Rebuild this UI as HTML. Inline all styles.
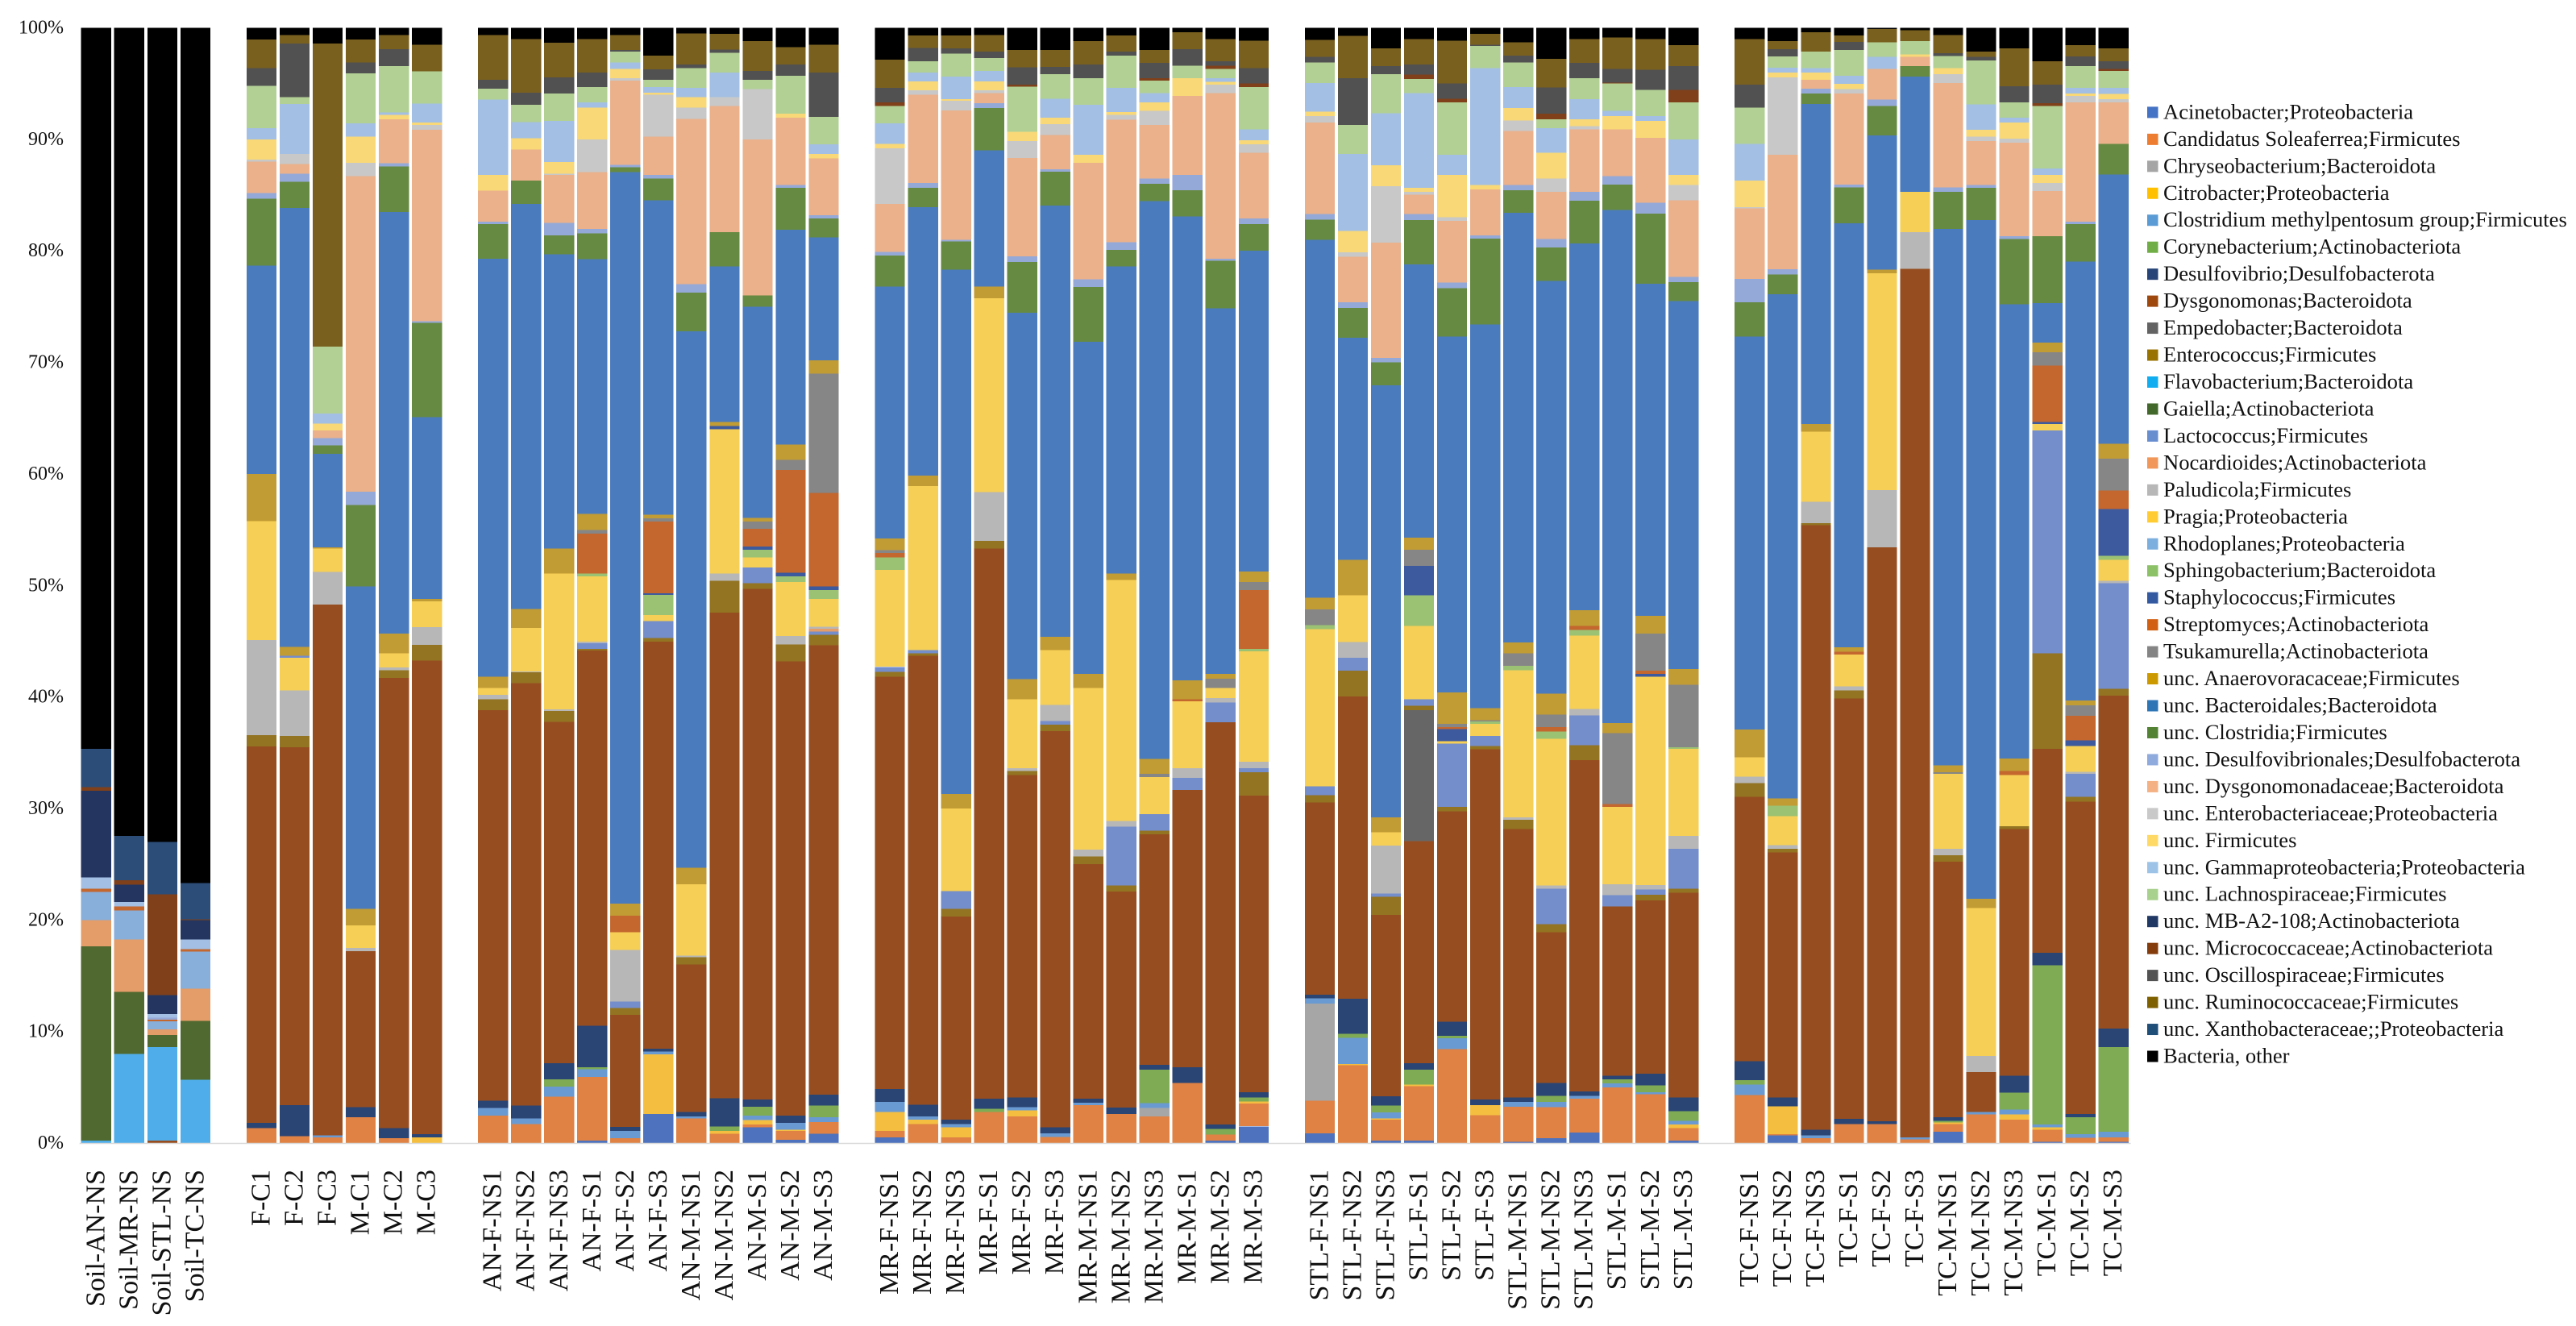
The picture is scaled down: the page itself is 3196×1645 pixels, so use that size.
<!DOCTYPE html>
<html lang="en">
<head>
<meta charset="utf-8">
<title>Stacked bacterial composition chart</title>
<style>
  html, body { margin: 0; padding: 0; background: #ffffff; }
  #chart { display: block; width: 3196px; height: 1645px; }
  text { font-family: "Liberation Serif", "Times New Roman", serif; fill: #000; }
  .tick { font-size: 24px; text-anchor: end; fill: #111; }
  .cat { font-size: 34px; text-anchor: end; fill: #111; }
  .leg { font-size: 26.6px; fill: #111; }
  rect.seg { shape-rendering: crispEdges; }
</style>
</head>
<body>
<svg id="chart" xmlns="http://www.w3.org/2000/svg" width="3196" height="1645" viewBox="0 0 3196 1645"></svg>
<script>
const seriesNames = ["Acinetobacter;Proteobacteria","Candidatus Soleaferrea;Firmicutes","Chryseobacterium;Bacteroidota","Citrobacter;Proteobacteria","Clostridium methylpentosum group;Firmicutes","Corynebacterium;Actinobacteriota","Desulfovibrio;Desulfobacterota","Dysgonomonas;Bacteroidota","Empedobacter;Bacteroidota","Enterococcus;Firmicutes","Flavobacterium;Bacteroidota","Gaiella;Actinobacteriota","Lactococcus;Firmicutes","Nocardioides;Actinobacteriota","Paludicola;Firmicutes","Pragia;Proteobacteria","Rhodoplanes;Proteobacteria","Sphingobacterium;Bacteroidota","Staphylococcus;Firmicutes","Streptomyces;Actinobacteriota","Tsukamurella;Actinobacteriota","unc. Anaerovoracaceae;Firmicutes","unc. Bacteroidales;Bacteroidota","unc. Clostridia;Firmicutes","unc. Desulfovibrionales;Desulfobacterota","unc. Dysgonomonadaceae;Bacteroidota","unc. Enterobacteriaceae;Proteobacteria","unc. Firmicutes","unc. Gammaproteobacteria;Proteobacteria","unc. Lachnospiraceae;Firmicutes","unc. MB-A2-108;Actinobacteriota","unc. Micrococcaceae;Actinobacteriota","unc. Oscillospiraceae;Firmicutes","unc. Ruminococcaceae;Firmicutes","unc. Xanthobacteraceae;;Proteobacteria","Bacteria, other"];
const palette = ["#4e72bd","#df8244","#a6a6a6","#f4bf41","#6a9ad2","#7fab55","#2a4474","#964e20","#666666","#937422","#4faeea","#4f6930","#748dcb","#e49c68","#b7b7b7","#f6cf56","#88aeda","#9bc173","#3d5a9e","#c3672e","#868686","#c19b34","#4a7bbd","#678a42","#95a9d8","#eab18b","#c8c8c8","#f8d877","#a3bfe3","#b2d094","#243660","#7f401a","#515151","#7a601f","#2c4d78","#000000"];
const legendPalette = ["#4472c4","#ed7d31","#a5a5a5","#ffc000","#5b9bd5","#70ad47","#264478","#9e480e","#636363","#997300","#10aef0","#43682b","#698ed0","#f1975a","#b7b7b7","#ffcd33","#7cafdd","#8cc168","#335aa1","#d26012","#848484","#cc9a00","#2e75b6","#548235","#8faadc","#f4b183","#c9c9c9","#ffd966","#9dc3e6","#a9d18e","#203864","#843c0c","#525252","#7f6000","#1f4e79","#000000"];
const yTicks = [0,10,20,30,40,50,60,70,80,90,100];

/* Each sample: [series index, cumulative top of that segment in percent], bottom to top */
const Soil_AN_NS=[[10,.2],[11,17.65],[13,19.97],[16,22.5],[19,22.8],[28,23.8],[30,31.6],[31,31.9],[34,35.35],[35,100]];
const Soil_MR_NS=[[10,8],[11,13.56],[13,18.25],[16,20.87],[19,21.2],[28,21.6],[30,23.16],[31,23.56],[34,27.55],[35,100]];
const Soil_STL_NS=[[7,.2],[10,8.6],[11,9.7],[13,10.2],[16,10.9],[19,11.05],[24,11.25],[28,11.57],[30,13.27],[31,22.3],[34,27],[35,100]];
const Soil_TC_NS=[[10,5.66],[11,10.94],[13,13.86],[16,17.15],[19,17.4],[28,18.25],[30,20],[31,20.05],[34,23.3],[35,100]];
const F_C1=[[1,1.35],[6,1.8],[7,35.55],[9,36.57],[14,45.1],[15,55.75],[21,60],[22,78.66],[23,84.67],[24,85.2],[25,88],[26,88.2],[27,90],[28,91],[29,94.8],[32,96.4],[33,98.95],[35,100]];
const F_C2=[[1,.63],[6,3.4],[7,35.5],[9,36.5],[14,40.6],[15,43.5],[12,43.7],[21,44.5],[22,83.84],[23,86.2],[24,86.9],[25,87.8],[26,88.7],[28,93.17],[29,93.77],[32,98.6],[33,99.35],[35,100]];
const F_C3=[[1,.5],[4,.68],[7,48.3],[14,51.2],[15,53.3],[21,53.4],[22,61.8],[23,62.56],[24,63.2],[25,63.9],[27,64.5],[28,65.4],[29,71.4],[33,98.6],[35,100]];
const M_C1=[[1,2.3],[6,3.2],[7,17.2],[14,17.5],[15,19.5],[21,21],[22,49.9],[23,57.2],[24,58.4],[25,86.7],[26,87.9],[27,90.25],[28,91.45],[29,95.9],[32,96.9],[33,98.95],[35,100]];
const M_C2=[[1,.43],[6,1.35],[7,41.7],[9,42.4],[14,42.65],[15,43.9],[21,45.67],[22,83.5],[23,87.56],[24,87.86],[25,91.8],[27,92.2],[28,92.4],[29,96.56],[32,98.1],[33,99.35],[35,100]];
const M_C3=[[3,.5],[6,.78],[7,43.25],[9,44.67],[14,46.27],[15,48.56],[21,48.8],[22,65.1],[23,73.55],[24,73.7],[25,90.85],[26,91.3],[27,91.5],[28,93.2],[29,96.1],[33,98.5],[35,100]];
const AN_F_NS1=[[1,2.47],[4,3.14],[6,3.8],[7,38.83],[9,39.8],[14,40.2],[15,40.8],[21,41.8],[22,79.3],[23,82.4],[24,82.6],[25,85.4],[27,86.8],[28,93.55],[29,94.55],[32,95.35],[33,99.36],[35,100]];
const AN_F_NS2=[[1,1.7],[4,2.2],[6,3.37],[7,41.25],[9,42.2],[14,42.3],[15,46.2],[21,47.9],[22,84.2],[23,86.3],[25,89.1],[27,90.1],[28,91.55],[29,93.1],[32,94.2],[33,99],[35,100]];
const AN_F_NS3=[[1,4.14],[4,5.07],[5,5.7],[6,7.15],[7,37.77],[9,38.76],[14,38.9],[15,51.08],[21,53.3],[22,79.7],[23,81.4],[24,82.5],[25,86.8],[26,86.9],[27,87.97],[28,91.65],[29,94.1],[32,95.55],[33,98.66],[35,100]];
const AN_F_S1=[[0,.2],[1,5.93],[4,6.63],[5,6.8],[6,10.5],[7,44.15],[9,44.3],[12,44.8],[14,44.95],[15,50.8],[17,51.08],[19,54.64],[20,54.97],[21,56.4],[22,79.27],[23,81.56],[24,81.96],[25,87.07],[26,90],[27,92.85],[28,93.3],[29,94.7],[32,96],[33,99],[35,100]];
const AN_F_S2=[[1,.43],[4,1.1],[6,1.43],[7,11.5],[9,12.1],[12,12.7],[14,17.3],[15,18.9],[19,20.4],[21,21.47],[22,87.07],[23,87.5],[24,87.7],[25,95.27],[26,95.5],[27,96.3],[28,96.9],[29,97.86],[32,98],[33,99.36],[35,100]];
const AN_F_S3=[[0,2.6],[3,7.95],[4,8.2],[6,8.45],[7,44.97],[9,45.3],[12,46.8],[15,47.36],[17,49.15],[18,49.3],[19,55.73],[20,56],[21,56.33],[22,84.55],[23,86.5],[24,86.8],[25,90.26],[26,94],[27,94.2],[28,94.7],[29,95.35],[32,96.27],[33,97.5],[35,100]];
const AN_M_NS1=[[1,2.2],[4,2.38],[6,2.8],[7,16],[9,16.65],[14,16.8],[15,23.2],[21,24.7],[22,72.8],[23,76.25],[24,77],[25,91.85],[26,92.85],[27,93.8],[28,94.6],[29,96.4],[32,96.7],[33,99.5],[35,100]];
const AN_M_NS2=[[1,.82],[3,1.08],[5,1.5],[6,4],[7,47.56],[9,50.4],[14,51.08],[15,64],[18,64.3],[21,64.65],[22,78.6],[23,81.66],[25,92.98],[26,93.8],[28,96],[29,97.76],[32,98.06],[33,99.46],[35,100]];
const AN_M_S1=[[0,1.42],[1,1.65],[3,2.07],[4,2.45],[5,3.27],[6,3.9],[7,49.7],[9,50.2],[12,51.6],[15,52.5],[17,53.2],[18,53.5],[19,55.07],[20,55.73],[21,56.07],[22,75],[23,76],[25,90],[26,94.5],[29,95.35],[32,96.13],[33,98.8],[35,100]];
const AN_M_S2=[[0,.28],[1,1.08],[3,1.2],[4,1.8],[6,2.45],[7,43.2],[9,44.7],[14,45.47],[15,50.3],[17,50.8],[18,51.15],[19,60.35],[20,61.25],[21,62.64],[22,81.9],[23,85.65],[24,85.9],[25,91.95],[27,92.3],[29,95.7],[32,96.7],[33,98.26],[35,100]];
const AN_M_S3=[[0,.82],[1,1.88],[4,2.3],[5,3.37],[6,4.33],[7,44.64],[9,45.57],[12,45.87],[13,46.1],[14,46.3],[15,48.8],[17,49.6],[18,49.9],[19,58.3],[20,69],[21,70.2],[22,81.2],[23,82.9],[24,83.2],[25,88.3],[27,88.7],[28,89.56],[29,92],[32,96],[33,98.5],[35,100]];
const MR_F_NS1=[[0,.5],[1,1.08],[3,2.8],[4,3.67],[6,4.83],[7,41.8],[9,42.25],[12,42.7],[15,51.4],[17,52.5],[19,52.9],[20,53.15],[21,54.2],[22,76.8],[23,79.57],[24,79.9],[25,84.2],[26,89.2],[27,89.6],[28,91.45],[29,93],[31,93.3],[32,94.6],[33,97.15],[35,100]];
const MR_F_NS2=[[1,1.7],[3,2.1],[4,2.38],[6,3.44],[7,43.7],[9,43.9],[12,44.2],[15,58.9],[21,59.85],[22,83.9],[23,85.65],[24,86.1],[25,94],[26,94.4],[27,95.2],[28,96],[29,97],[32,98.2],[33,99.3],[35,100]];
const MR_F_NS3=[[1,.5],[3,1.42],[4,1.7],[6,2.1],[7,20.3],[9,21],[12,22.6],[15,30],[21,31.3],[22,78.3],[23,80.85],[24,81],[25,92.6],[26,93.45],[27,93.6],[28,95.64],[29,97.7],[32,98.16],[33,99.3],[35,100]];
const MR_F_S1=[[1,2.8],[5,3.07],[6,3.97],[7,53.3],[9,54],[14,58.35],[15,75.75],[21,76.8],[22,89],[23,92.8],[24,93.25],[25,94.15],[26,94.4],[27,95.2],[28,96.14],[29,97.3],[32,97.86],[33,99.36],[35,100]];
const MR_F_S2=[[1,2.38],[3,2.94],[4,3.2],[6,4.07],[7,33],[9,33.35],[14,33.6],[15,39.8],[21,41.6],[22,74.45],[23,79],[24,79.5],[25,88.33],[26,89.83],[27,90.66],[29,94.74],[31,94.9],[32,96.47],[33,98],[35,100]];
const MR_F_S3=[[1,.55],[4,.88],[6,1.42],[7,36.94],[9,37.5],[12,37.83],[14,39.3],[15,44.2],[21,45.4],[22,84.05],[23,87.1],[24,87.3],[25,90.4],[26,91.35],[27,91.95],[28,93.65],[29,95.84],[32,96.5],[33,98],[35,100]];
const MR_M_NS1=[[1,3.4],[4,3.6],[6,3.97],[7,25],[9,25.7],[14,26.3],[15,40.8],[21,42.05],[22,71.85],[23,76.75],[24,77.45],[25,87.9],[27,88.6],[28,93.1],[29,95.5],[32,96.7],[33,98.8],[35,100]];
const MR_M_NS2=[[1,2.6],[6,3.17],[7,22.56],[9,23.1],[12,28.37],[14,28.87],[15,50.5],[21,51.08],[22,78.6],[23,80.1],[24,80.77],[25,91.75],[26,92.2],[27,92.45],[28,94.6],[29,97.5],[32,97.86],[33,99.3],[35,100]];
const MR_M_NS3=[[1,2.38],[2,3.14],[4,3.57],[5,6.56],[6,7],[7,27.7],[9,28],[12,29.5],[15,32.8],[20,33.1],[21,34.45],[22,84.45],[23,86],[24,86.5],[25,91.3],[26,92.55],[27,93.3],[28,94.15],[29,95.27],[31,95.5],[32,96.87],[33,98],[35,100]];
const MR_M_S1=[[1,5.4],[6,6.8],[7,31.66],[12,32.75],[14,33.6],[15,39.6],[19,39.8],[21,41.5],[22,83.1],[23,85.45],[24,86.8],[25,93.9],[27,95.5],[29,96.6],[32,98.1],[33,99.6],[35,100]];
const MR_M_S2=[[0,.2],[1,.75],[5,1.25],[6,1.68],[7,37.74],[12,39.5],[14,39.9],[15,40.8],[20,41.65],[21,42.05],[22,74.85],[23,79.1],[24,79.3],[25,94.15],[26,94.9],[27,95.15],[28,95.5],[29,96.3],[31,96.6],[32,97],[33,99],[35,100]];
const MR_M_S3=[[0,1.5],[1,3.54],[3,3.74],[5,4.1],[6,4.54],[7,31.15],[9,33.25],[12,33.6],[14,34.2],[15,44.1],[17,44.3],[19,49.6],[20,50.3],[21,51.25],[22,80],[23,82.4],[24,82.9],[25,88.8],[26,89.56],[27,89.9],[28,90.9],[29,94.7],[31,95],[32,96.4],[33,98.86],[35,100]];
const STL_F_NS1=[[0,.88],[1,3.8],[2,12.5],[4,12.97],[6,13.3],[7,30.53],[9,31.2],[12,32],[15,46.07],[17,46.43],[20,47.86],[21,48.9],[22,81],[23,82.8],[24,83.3],[25,91.5],[26,92.1],[27,92.5],[28,95.04],[29,96.9],[32,97.4],[33,98.9],[35,100]];
const STL_F_NS2=[[1,6.96],[3,7.1],[4,9.45],[5,9.8],[6,12.94],[7,40.06],[9,42.35],[12,43.5],[14,44.94],[15,49.1],[21,52.3],[22,72.2],[23,74.9],[24,75.4],[25,79.47],[26,79.87],[27,81.8],[28,88.7],[29,91.3],[32,95.5],[33,99.26],[35,100]];
const STL_F_NS3=[[0,.2],[1,2.1],[3,2.2],[4,2.75],[5,3.35],[6,4.2],[7,20.44],[9,22.1],[12,22.36],[14,26.68],[15,27.87],[21,29.2],[22,67.95],[23,70],[24,70.4],[25,80.75],[26,85.78],[27,87.67],[28,92.35],[29,95.84],[32,96.57],[33,98.16],[35,100]];
const STL_F_S1=[[0,.2],[1,5.1],[3,5.23],[5,6.56],[6,7.15],[7,27.07],[8,38.83],[9,39.2],[12,39.8],[15,46.37],[17,49.1],[18,51.75],[20,53.2],[21,54.3],[22,78.77],[23,82.76],[24,83.3],[25,85.05],[26,85.3],[27,85.65],[28,94.15],[29,95.4],[31,95.8],[32,96.7],[33,99],[35,100]];
const STL_F_S2=[[1,8.42],[4,9.38],[5,9.6],[6,10.88],[7,29.76],[9,30.13],[12,35.8],[15,36.04],[18,37.1],[19,37.3],[20,37.57],[21,40.4],[22,72.3],[23,76.65],[24,77.15],[25,82.7],[26,83],[27,86.8],[28,88.63],[29,93.3],[31,93.65],[32,95],[33,98.86],[35,100]];
const STL_F_S3=[[1,2.5],[3,3.4],[6,3.9],[7,35.3],[9,35.6],[12,36.5],[15,37.6],[17,37.8],[20,37.9],[21,39],[22,73.4],[23,81.1],[24,81.4],[25,85.5],[27,85.9],[28,96.4],[29,98.36],[32,98.5],[33,99.46],[35,100]];
const STL_M_NS1=[[0,.1],[1,3.27],[4,3.67],[6,4.1],[7,28.14],[9,29],[14,29.2],[15,42.4],[17,42.8],[20,43.9],[21,44.9],[22,83.4],[23,85.45],[24,85.9],[25,90.76],[26,91.7],[27,92.8],[28,94.7],[29,96.9],[32,97.5],[33,98.7],[35,100]];
const STL_M_NS2=[[0,.43],[1,3.2],[4,3.67],[5,4.24],[6,5.4],[7,18.9],[9,19.64],[12,22.8],[14,23.1],[15,36.24],[17,36.9],[19,37.3],[20,38.4],[21,40.3],[22,77.3],[23,80.3],[24,81.07],[25,85.3],[26,86.5],[27,88.8],[28,91],[29,91.8],[31,92.3],[32,94.65],[33,97.2],[35,100]];
const STL_M_NS3=[[0,.95],[1,3.97],[4,4.24],[6,4.63],[7,34.35],[9,35.67],[12,38.33],[14,38.93],[15,45.5],[17,46],[19,46.37],[21,47.76],[22,80.67],[23,84.5],[24,85.3],[25,90.9],[26,91.2],[27,91.8],[28,93.6],[29,95.5],[32,96.87],[33,99],[35,100]];
const STL_M_S1=[[1,5],[4,5.36],[5,5.7],[6,6.03],[7,21.23],[12,22.23],[14,23.2],[15,30.13],[19,30.4],[20,36.77],[21,37.67],[22,83.65],[23,85.95],[24,86.7],[25,90.9],[27,92.1],[28,92.55],[29,95],[31,95.1],[32,96.3],[33,99.15],[35,100]];
const STL_M_S2=[[1,4.37],[4,4.54],[5,5.17],[6,6.23],[7,21.77],[9,22.27],[12,22.73],[14,23.13],[15,41.8],[18,42.05],[19,42.35],[20,45.67],[21,47.26],[22,77.05],[23,83.35],[24,84.3],[25,90.15],[27,91.65],[28,92.1],[29,94.45],[32,96.24],[33,99],[35,100]];
const STL_M_S3=[[0,.2],[1,1.35],[3,1.65],[4,2],[5,2.85],[6,4.1],[7,22.46],[9,22.8],[12,26.38],[14,27.54],[15,35.34],[17,35.5],[20,41.1],[21,42.5],[22,75.5],[23,77.2],[24,77.65],[25,84.55],[26,85.9],[27,86.8],[28,90],[29,93.3],[31,94.45],[32,96.57],[33,98.46],[35,100]];
const TC_F_NS1=[[1,4.3],[4,5.24],[5,5.63],[6,7.35],[7,31.03],[9,32.26],[14,32.86],[15,34.6],[21,37.07],[22,72.3],[23,75.4],[24,77.5],[25,83.8],[26,83.9],[27,86.3],[28,89.6],[29,92.85],[32,94.9],[33,99],[35,100]];
const TC_F_NS2=[[0,.68],[1,.8],[3,3.3],[6,4.1],[7,26.05],[9,26.4],[14,26.7],[15,29.3],[17,30.26],[21,30.9],[22,76.1],[23,77.9],[24,78.34],[25,88.6],[26,95.57],[27,96],[28,96.44],[29,97.43],[32,98.1],[33,98.8],[35,100]];
const TC_F_NS3=[[1,.43],[4,.68],[6,1.18],[7,55.4],[9,55.6],[14,57.5],[15,63.8],[21,64.46],[22,93.18],[23,94.1],[24,94.54],[25,95.34],[27,96],[28,96.4],[29,97.86],[33,99.6],[35,100]];
const TC_F_S1=[[1,1.7],[6,2.18],[7,39.86],[9,40.6],[14,40.95],[15,43.8],[19,44.07],[21,44.47],[22,82.46],[23,85.7],[24,85.95],[25,94.1],[26,94.5],[27,94.97],[28,95.7],[29,98.03],[32,98.73],[33,99.3],[35,100]];
const TC_F_S2=[[1,1.7],[6,1.95],[7,53.4],[14,58.55],[15,78],[21,78.3],[22,90.36],[23,93],[24,93.55],[25,96.3],[28,97.4],[29,98.7],[33,99.9],[35,100]];
const TC_F_S3=[[1,.33],[4,.5],[7,78.4],[14,81.66],[15,85.3],[22,95.64],[23,96.57],[25,97.4],[27,97.6],[29,98.8],[33,99.8],[35,100]];
const TC_M_NS1=[[0,1],[1,1.7],[3,1.85],[5,2],[6,2.33],[7,25.22],[9,25.8],[14,26.38],[15,33.1],[20,33.25],[21,33.85],[22,81.96],[23,85.3],[24,85.7],[25,95.04],[26,95.84],[27,96.4],[29,97.46],[32,97.73],[33,99.36],[35,100]];
const TC_M_NS2=[[1,2.55],[4,2.8],[7,6.36],[14,7.8],[15,21.07],[21,21.9],[22,82.76],[23,85.65],[24,85.9],[25,89.86],[26,90.26],[27,90.86],[28,93.15],[29,97.07],[32,97.4],[33,97.86],[35,100]];
const TC_M_NS3=[[1,2.1],[3,2.55],[4,3],[5,4.53],[6,6.03],[7,28.14],[9,28.4],[15,33],[19,33.35],[21,34.48],[22,75.2],[23,81.06],[24,81.3],[25,89.7],[26,90.06],[27,91.5],[28,91.95],[29,93.3],[32,94.75],[33,98.16],[35,100]];
const TC_M_S1=[[0,.1],[1,1.2],[3,1.4],[4,1.68],[5,15.95],[6,17.05],[7,35.35],[9,43.9],[12,63.9],[15,64.46],[18,64.65],[19,69.7],[20,70.9],[21,71.76],[22,75.3],[23,81.3],[25,85.35],[26,86.1],[27,86.8],[28,87.4],[29,93],[31,93.25],[32,94.9],[33,97],[35,100]];
const TC_M_S2=[[1,.46],[4,.8],[5,2.3],[6,2.6],[7,30.6],[9,31.06],[12,33.1],[14,33.3],[15,35.6],[18,36.1],[19,38.3],[20,39.26],[21,39.7],[22,79.05],[23,82.4],[24,82.6],[25,93.3],[26,93.9],[27,94.1],[28,94.6],[29,96.57],[32,97.43],[33,98.46],[35,100]];
const TC_M_S3=[[0,.1],[1,.5],[4,1.03],[5,8.6],[6,10.27],[7,40.1],[9,40.72],[12,50.2],[14,50.4],[15,52.3],[17,52.67],[18,56.86],[19,58.5],[20,61.35],[21,62.7],[22,86.84],[23,89.6],[25,93.3],[26,93.6],[27,94.07],[28,94.6],[29,96.14],[31,96.3],[32,97],[33,98.16],[35,100]];

/* Category slots along the x axis; blank entries are the gaps between groups */
const categories = ["Soil-AN-NS","Soil-MR-NS","Soil-STL-NS","Soil-TC-NS","","F-C1","F-C2","F-C3","M-C1","M-C2","M-C3","","AN-F-NS1","AN-F-NS2","AN-F-NS3","AN-F-S1","AN-F-S2","AN-F-S3","AN-M-NS1","AN-M-NS2","AN-M-S1","AN-M-S2","AN-M-S3","","MR-F-NS1","MR-F-NS2","MR-F-NS3","MR-F-S1","MR-F-S2","MR-F-S3","MR-M-NS1","MR-M-NS2","MR-M-NS3","MR-M-S1","MR-M-S2","MR-M-S3","","STL-F-NS1","STL-F-NS2","STL-F-NS3","STL-F-S1","STL-F-S2","STL-F-S3","STL-M-NS1","STL-M-NS2","STL-M-NS3","STL-M-S1","STL-M-S2","STL-M-S3","","TC-F-NS1","TC-F-NS2","TC-F-NS3","TC-F-S1","TC-F-S2","TC-F-S3","TC-M-NS1","TC-M-NS2","TC-M-NS3","TC-M-S1","TC-M-S2","TC-M-S3"];
const sampleStacks = [Soil_AN_NS,Soil_MR_NS,Soil_STL_NS,Soil_TC_NS,null,F_C1,F_C2,F_C3,M_C1,M_C2,M_C3,null,AN_F_NS1,AN_F_NS2,AN_F_NS3,AN_F_S1,AN_F_S2,AN_F_S3,AN_M_NS1,AN_M_NS2,AN_M_S1,AN_M_S2,AN_M_S3,null,MR_F_NS1,MR_F_NS2,MR_F_NS3,MR_F_S1,MR_F_S2,MR_F_S3,MR_M_NS1,MR_M_NS2,MR_M_NS3,MR_M_S1,MR_M_S2,MR_M_S3,null,STL_F_NS1,STL_F_NS2,STL_F_NS3,STL_F_S1,STL_F_S2,STL_F_S3,STL_M_NS1,STL_M_NS2,STL_M_NS3,STL_M_S1,STL_M_S2,STL_M_S3,null,TC_F_NS1,TC_F_NS2,TC_F_NS3,TC_F_S1,TC_F_S2,TC_F_S3,TC_M_NS1,TC_M_NS2,TC_M_NS3,TC_M_S1,TC_M_S2,TC_M_S3];

const NS = "http://www.w3.org/2000/svg";
const svg = document.getElementById("chart");
const plotLeft = 100.7, slotWidth = 41.03, barWidth = 37.3;
const yZero = 1418, yFull = 34.5;
function xScale(i) { return plotLeft + slotWidth * i; }
function yScale(v) { return yZero + (yFull - yZero) * v / 100; }
function make(tag, attrs, parent) {
  const n = document.createElementNS(NS, tag);
  for (const k in attrs) n.setAttribute(k, attrs[k]);
  parent.appendChild(n);
  return n;
}

/* bars */
const barsLayer = make("g", {}, svg);


categories.forEach(function (cat, i) {
  const stack = sampleStacks[i];
  if (!stack) return;
  const g = make("g", {}, barsLayer);
  
  
  let prev = 0;
  stack.forEach(function (pair) {
    const top = pair[1];
    const yT = yScale(top), yB = yScale(prev);
    const r = make("rect", { "class": "seg", x: xScale(i).toFixed(2), y: yT.toFixed(2), width: barWidth, height: Math.max(0, yB - yT).toFixed(2), fill: palette[pair[0]] }, g);
    
    
    prev = top;
  });
});

/* x axis line */
const axisLine = make("line", { x1: xScale(0) - 2, x2: xScale(categories.length) - 1, y1: yZero + .5, y2: yZero + .5, stroke: "#d9d9d9", "stroke-width": 1.5 }, svg);



/* y tick labels */
yTicks.forEach(function (t) {
  const el = make("text", { "class": "tick", x: 79, y: yScale(t) + 7 }, svg);
  el.textContent = t + "%";
  
  
});

/* x category labels */
categories.forEach(function (cat, i) {
  if (!cat) return;
  const cx = xScale(i) + barWidth / 2 + 10, top = 1451;
  const el = make("text", { "class": "cat", x: cx, y: top, transform: "rotate(-90 " + cx + " " + top + ")" }, svg);
  el.textContent = cat;
  
  
});

/* legend */
const legendX = 2664, legendTop = 139.4, legendStep = 33.46;
const legend = make("g", {}, svg);


seriesNames.forEach(function (name, i) {
  const cy = legendTop + i * legendStep;
  const g = make("g", {}, legend);
  
  
  const sw = make("rect", { x: legendX, y: cy - 7, width: 13.5, height: 14, fill: legendPalette[i] }, g);
  
  
  const tx = make("text", { "class": "leg", x: legendX + 20, y: cy + 8 }, g);
  tx.textContent = name;
  
  
});
</script>
</body>
</html>
